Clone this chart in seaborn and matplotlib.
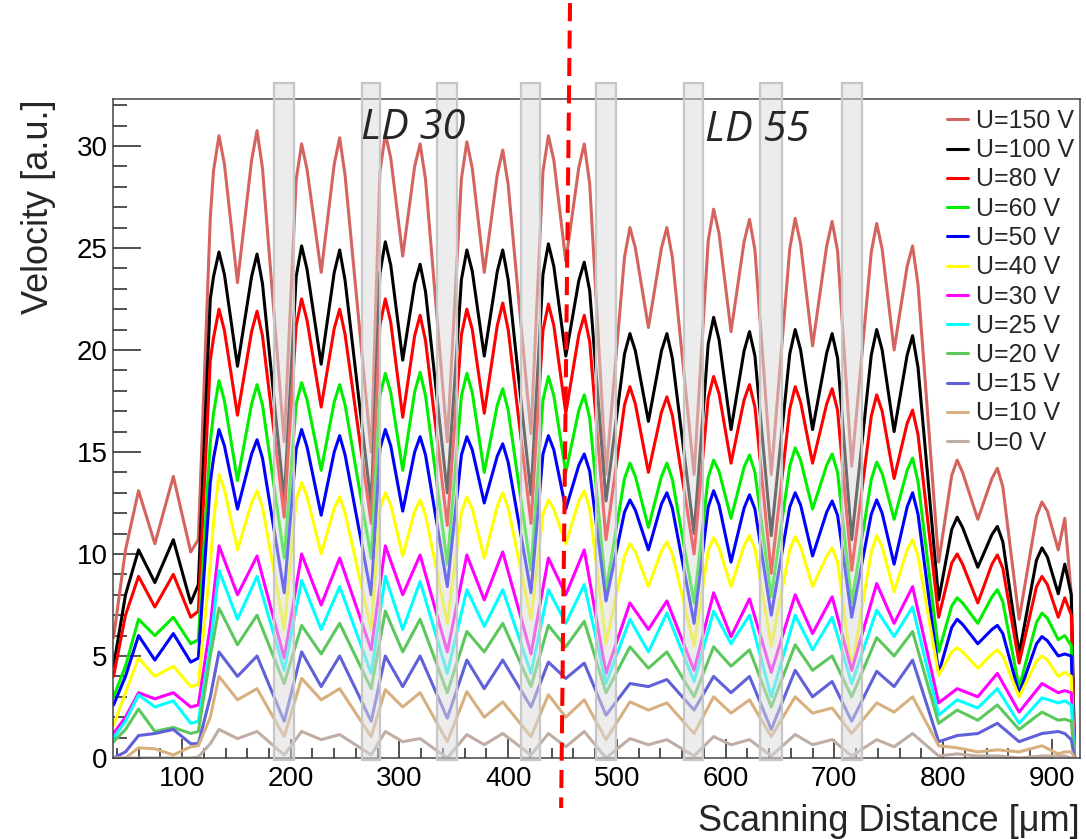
import numpy as np
import pandas as pd
import matplotlib
matplotlib.use("Agg")
import matplotlib.pyplot as plt
import seaborn as sns
from matplotlib.patches import Rectangle
from matplotlib.ticker import MultipleLocator

# ---------------- data ----------------
# sample positions (um) for the high-voltage curves (peaks with shoulders)
x_hi = [37, 48, 60, 75, 92, 108, 115, 126,
        129, 134, 139, 151, 164, 169, 174, 194,
        205, 210, 215, 228, 240, 245, 250, 274,
        282, 287, 292, 303, 314, 319, 324, 344,
        357, 362, 367, 378, 390, 395, 400, 421,
        432, 437, 442, 453, 465, 470, 475, 490,
        507, 512, 517, 529, 541, 546, 551, 571,
        584, 589, 594, 605, 617, 622, 627, 642,
        659, 664, 669, 680, 693, 698, 703, 716,
        734, 739, 744, 755, 767, 772, 777,
        796, 808, 813, 818, 832, 845, 850, 855, 870, 886, 891, 896, 906, 912, 918, 921]

u150 = [5.9, 10.2, 13.1, 10.5, 13.8, 10.1, 10.7, 26.5,
        28.8, 30.5, 29.1, 23.3, 29.3, 30.75, 28.9, 15.5,
        28.35, 30.1, 28.85, 23.8, 29.1, 30.4, 28.55, 15.0,
        28.7, 30.6, 29.4, 24.6, 29.0, 30.1, 28.35, 15.5,
        28.4, 30.2, 28.9, 23.8, 28.6, 29.8, 28.1, 15.9,
        28.75, 30.5, 29.3, 24.35, 28.95, 30.1, 28.15, 13.9,
        24.55, 26.0, 25.0, 21.1, 25.0, 26.0, 24.55, 13.9,
        25.35, 26.9, 25.7, 20.9, 25.3, 26.4, 24.9, 13.9,
        24.95, 26.45, 25.2, 20.2, 25.1, 26.3, 24.85, 14.3,
        24.8, 26.2, 24.95, 20.0, 24.1, 25.1, 23.2,
        9.6, 13.85, 14.6, 14.0, 11.7, 13.7, 14.2, 13.3, 6.8, 11.85, 12.55, 12.1, 10.2, 11.75, 8.0, 0.0]
u100 = [4.5, 8.0, 10.2, 8.6, 10.7, 7.6, 8.5, 22.5,
        23.6, 24.8, 23.7, 19.2, 23.6, 24.7, 23.25, 12.6,
        23.6, 25.1, 23.95, 19.3, 23.8, 24.9, 23.4, 12.4,
        23.75, 25.3, 24.15, 19.5, 23.25, 24.2, 22.85, 13.0,
        23.45, 24.9, 23.85, 19.7, 23.85, 24.9, 23.45, 12.9,
        23.7, 25.2, 24.1, 19.7, 23.4, 24.3, 22.9, 12.6,
        19.8, 20.8, 19.95, 16.5, 19.95, 20.8, 19.6, 11.0,
        20.3, 21.6, 20.5, 16.1, 19.95, 20.9, 19.7, 10.9,
        19.8, 21.0, 20.0, 16.1, 19.85, 20.8, 19.6, 10.7,
        19.75, 21.0, 20.0, 16.0, 19.75, 20.7, 19.15,
        7.75, 11.2, 11.8, 11.3, 9.35, 10.95, 11.35, 10.6, 5.1, 9.7, 10.3, 9.85, 8.05, 9.5, 8.0, 0.0]
u80 = [4.0, 7.0, 8.9, 7.4, 9.0, 6.9, 7.2, 19.5,
       20.6, 22.0, 20.95, 16.8, 20.9, 21.9, 20.7, 11.8,
       21.2, 22.5, 21.45, 17.2, 21.05, 22.0, 20.75, 11.5,
       21.2, 22.5, 21.35, 16.7, 20.7, 21.7, 20.45, 11.4,
       20.75, 22.0, 21.0, 16.9, 21.2, 22.3, 21.0, 11.5,
       20.95, 22.25, 21.2, 16.9, 20.75, 21.7, 20.4, 10.7,
       17.3, 18.2, 17.35, 14.0, 16.95, 17.7, 16.8, 10.0,
       17.65, 18.7, 17.85, 14.45, 17.55, 18.3, 17.2, 9.05,
       17.1, 18.2, 17.45, 14.45, 17.35, 18.1, 17.05, 9.2,
       16.75, 17.8, 17.0, 13.7, 16.4, 17.05, 15.85,
       6.9, 9.55, 10.0, 9.5, 7.6, 9.5, 9.95, 9.3, 4.65, 8.4, 8.9, 8.5, 6.9, 7.85, 7.0, 0.0]
u60 = [3.0, 4.5, 6.8, 6.0, 6.9, 5.6, 5.8, 15.5,
       16.9, 18.5, 17.5, 13.6, 17.35, 18.3, 17.3, 9.8,
       17.35, 18.4, 17.55, 14.1, 17.45, 18.3, 17.3, 9.8,
       17.75, 18.85, 17.9, 14.1, 17.95, 18.9, 17.75, 9.5,
       17.75, 18.85, 17.9, 14.0, 17.3, 18.1, 17.05, 9.2,
       17.55, 18.7, 17.75, 14.0, 17.05, 17.8, 16.65, 8.2,
       13.7, 14.45, 13.8, 11.3, 13.8, 14.45, 13.65, 7.6,
       13.75, 14.6, 14.05, 11.75, 14.25, 14.85, 14.0, 7.9,
       14.3, 15.2, 14.6, 12.2, 14.35, 14.9, 14.0, 7.6,
       13.65, 14.5, 13.95, 11.7, 14.1, 14.7, 13.55,
       5.2, 7.45, 7.85, 7.6, 6.6, 7.9, 8.25, 7.65, 3.45, 6.65, 7.1, 6.85, 5.8, 6.0, 5.5, 0.0]
u50 = [2.6, 4.0, 6.0, 4.8, 6.1, 4.7, 4.9, 13.5,
       14.7, 16.1, 15.3, 12.2, 14.9, 15.6, 14.7, 8.1,
       15.15, 16.1, 15.25, 11.9, 15.0, 15.8, 14.85, 8.0,
       15.15, 16.1, 15.3, 12.1, 15.0, 15.75, 14.85, 8.4,
       14.85, 15.75, 15.1, 12.5, 14.8, 15.4, 14.5, 8.1,
       14.9, 15.8, 15.1, 12.2, 14.35, 14.9, 14.05, 7.7,
       12.05, 12.65, 12.15, 10.2, 12.45, 13.0, 12.25, 6.6,
       12.3, 13.1, 12.4, 9.6, 12.25, 12.9, 12.2, 7.0,
       12.3, 13.0, 12.4, 9.9, 12.05, 12.6, 11.9, 6.9,
       11.95, 12.65, 12.0, 9.5, 12.3, 13.0, 11.95,
       4.15, 6.4, 6.8, 6.55, 5.6, 6.3, 6.5, 6.1, 3.15, 5.6, 5.95, 5.75, 5.0, 5.1, 5.0, 0.0]
u40 = [1.6, 3.2, 4.9, 4.0, 4.5, 3.5, 3.6, 9.5,
       11.6, 13.9, 13.15, 10.2, 12.5, 13.1, 12.3, 6.3,
       12.65, 13.5, 12.8, 10.0, 12.25, 12.8, 12.0, 6.3,
       12.2, 13.0, 12.4, 9.9, 12.1, 12.65, 11.9, 6.6,
       12.05, 12.8, 12.2, 9.8, 12.35, 13.0, 12.25, 6.8,
       11.95, 12.65, 12.2, 10.5, 12.6, 13.1, 12.2, 5.6,
       9.9, 10.5, 10.1, 8.4, 10.15, 10.6, 10.0, 5.5,
       10.15, 10.8, 10.3, 8.4, 10.4, 10.9, 10.25, 5.5,
       10.2, 10.85, 10.35, 8.4, 9.9, 10.3, 9.6, 4.3,
       10.1, 10.9, 10.35, 8.15, 10.2, 10.7, 9.9,
       4.05, 5.2, 5.4, 5.2, 4.4, 5.1, 5.3, 5.0, 3.0, 4.75, 5.0, 4.8, 4.0, 4.2, 4.0, 0.0]

# sample positions (um) for the low-voltage curves
x_lo = [37, 48, 60, 75, 92, 108, 115, 126,
        134, 151, 169, 194,
        210, 228, 245, 274,
        287, 303, 319, 344,
        362, 378, 395, 421,
        437, 453, 470, 490,
        512, 529, 546, 571,
        589, 605, 622, 642,
        664, 680, 698, 716,
        739, 755, 772,
        796, 813, 832, 850, 870, 891, 906, 912, 918, 921]

u30 = [1.2, 2.0, 3.2, 2.9, 3.2, 2.5, 2.6, 6.5,
       10.4, 8.0, 9.9, 4.9,
       10.0, 7.5, 9.8, 5.3,
       10.4, 8.0, 9.95, 5.2,
       9.95, 7.75, 10.1, 5.1,
       9.8, 8.0, 10.2, 4.15,
       7.6, 6.3, 7.7, 4.3,
       8.1, 5.95, 7.8, 4.2,
       8.0, 6.1, 7.9, 4.3,
       8.55, 6.6, 8.4,
       2.7, 3.4, 3.0, 4.15, 2.25, 3.65, 3.2, 3.3, 3.2, 0.0]
u25 = [1.0, 1.8, 3.1, 2.5, 2.8, 1.7, 1.8, 5.5,
       9.2, 6.8, 8.9, 4.3,
       8.7, 6.3, 8.4, 4.15,
       8.9, 6.3, 8.65, 4.15,
       8.25, 6.45, 8.25, 4.15,
       8.25, 6.6, 8.5, 3.65,
       6.8, 5.2, 7.1, 3.75,
       7.2, 5.6, 7.0, 3.0,
       7.0, 5.3, 6.9, 3.65,
       7.25, 5.95, 7.4,
       2.1, 2.85, 2.45, 3.4, 1.7, 2.95, 2.7, 2.8, 2.6, 0.0]
u20 = [0.8, 1.4, 2.4, 1.3, 1.5, 1.2, 1.3, 5.0,
       7.35, 5.55, 7.0, 3.65,
       6.5, 5.1, 6.6, 3.4,
       7.2, 5.2, 6.8, 3.2,
       6.2, 5.2, 6.6, 3.5,
       6.5, 5.45, 6.7, 3.2,
       5.45, 4.4, 5.2, 3.0,
       5.45, 4.5, 5.3, 2.5,
       5.55, 4.3, 5.0, 3.0,
       5.9, 5.0, 6.2,
       1.7, 2.35, 1.85, 2.6, 1.4, 2.25, 1.85, 1.9, 1.8, 0.0]
u15 = [0.0, 0.3, 1.1, 1.2, 1.4, 0.7, 0.7, 3.0,
       5.2, 4.0, 5.0, 1.8,
       5.2, 3.5, 5.0, 1.8,
       5.0, 3.5, 5.0, 1.95,
       4.8, 3.4, 4.8, 2.5,
       4.7, 3.9, 4.65, 2.1,
       3.65, 3.5, 3.85, 2.35,
       4.0, 3.2, 4.0, 1.4,
       4.3, 3.0, 3.75, 1.8,
       4.25, 3.5, 4.8,
       0.8, 1.1, 1.2, 1.7, 0.8, 1.2, 1.3, 1.2, 0.9, 0.0]
u10 = [0.0, 0.0, 0.5, 0.45, 0.15, 0.55, 0.6, 2.0,
       4.0, 2.85, 3.4, 1.05,
       3.9, 2.85, 3.4, 1.05,
       3.35, 2.5, 3.2, 0.8,
       3.25, 2.0, 2.75, 1.05,
       3.1, 2.0, 2.85, 0.9,
       2.75, 2.35, 2.7, 1.2,
       3.0, 2.2, 2.85, 1.05,
       3.0, 2.2, 2.45, 1.2,
       2.7, 2.25, 3.0,
       0.6, 0.5, 0.3, 0.4, 0.3, 0.6, 0.2, 0.3, 0.3, 0.0]
u0 = [0.0, 0.0, 0.0, 0.0, 0.0, 0.0, 0.05, 0.7,
      1.4, 0.95, 1.3, 0.15,
      1.3, 0.9, 1.15, 0.15,
      1.3, 0.8, 0.95, 0.0,
      1.15, 0.65, 1.2, 0.15,
      1.2, 0.55, 1.3, 0.0,
      0.95, 0.65, 0.9, 0.1,
      1.05, 0.65, 0.9, 0.1,
      1.15, 0.65, 0.9, 0.1,
      0.9, 0.55, 1.2,
      0.1, 0.2, 0.1, 0.1, 0.0, 0.1, 0.1, 0.1, 0.0, 0.0]

labels = ["U=150 V", "U=100 V", "U=80 V", "U=60 V", "U=50 V", "U=40 V",
          "U=30 V", "U=25 V", "U=20 V", "U=15 V", "U=10 V", "U=0 V"]
series = [u150, u100, u80, u60, u50, u40, u30, u25, u20, u15, u10, u0]
xgrids = [x_hi] * 6 + [x_lo] * 6
colors = ["#d4645e", "#000000", "#ff0000", "#00ee00", "#0000ff", "#ffff00",
          "#ff00ff", "#00ffff", "#5cc85c", "#6060d8", "#d8b080", "#c0aea4"]

# grey strips (left, right edges in um)
strip_lo = [184.6, 265.6, 334.3, 411.6, 480.9, 561.8, 631.7, 706.9]
strip_hi = [203.0, 282.2, 352.7, 429.3, 499.3, 579.6, 651.7, 725.3]

# ---------------- figure ----------------
sns.set_style("white")
plt.rcParams['font.family'] = ['Liberation Sans', 'DejaVu Sans']

fig = plt.figure(figsize=(10.86, 8.39), dpi=100)
ax = fig.add_axes([113 / 1086, 1 - 758 / 839, 967 / 1086, 659 / 839])

df = pd.concat([pd.DataFrame({"x": xs, "v": s, "U": lab})
                for xs, s, lab in zip(xgrids, series, labels)], ignore_index=True)

sns.lineplot(data=df, x="x", y="v", hue="U", hue_order=labels,
             palette=dict(zip(labels, colors)), estimator=None, sort=False,
             linewidth=2.2, ax=ax, legend=True)
for ln in ax.get_lines():
    ln.set_solid_joinstyle("round")
    ln.set_solid_capstyle("round")

ax.set_xlim(36.5, 926)
ax.set_ylim(0, 32.3)

for lo, hi in zip(strip_lo, strip_hi):
    r = Rectangle((lo, -0.1), hi - lo, 33.2, facecolor=(0.86, 0.86, 0.86, 0.5),
                  edgecolor=(0.78, 0.78, 0.78, 1.0), linewidth=1.6,
                  clip_on=False, zorder=5)
    ax.add_patch(r)

ax.plot([456.9, 448.7], [37.0, -2.45], color="#ff0000", lw=2.9,
        dashes=(4.5, 2.3), clip_on=False, zorder=10)

ax.text(312.5, 30.9, "LD 30", fontsize=30, style="italic",
        family=["Open Sans", "DejaVu Sans"], ha="center", va="center", zorder=11)
ax.text(628.6, 30.8, "LD 55", fontsize=30, style="italic",
        family=["Open Sans", "DejaVu Sans"], ha="center", va="center", zorder=11)

ax.xaxis.set_major_locator(MultipleLocator(100))
ax.xaxis.set_minor_locator(MultipleLocator(20))
ax.yaxis.set_major_locator(MultipleLocator(5))
ax.yaxis.set_minor_locator(MultipleLocator(1))
ax.tick_params(axis="x", which="major", direction="in", length=14, width=1.1,
               labelsize=20, pad=6, bottom=True, top=False, color="#222222",
               labelcolor="black")
ax.tick_params(axis="x", which="minor", direction="in", length=7, width=1.1,
               bottom=True, top=False, color="#222222")
ax.tick_params(axis="y", which="major", direction="in", length=20, width=1.1,
               labelsize=20, pad=4, left=True, right=False, color="#222222",
               labelcolor="black")
ax.tick_params(axis="y", which="minor", direction="in", length=10, width=1.1,
               left=True, right=False, color="#222222")
for sp in ax.spines.values():
    sp.set_linewidth(1.1)
    sp.set_color("#444444")

ax.set_xlabel("Scanning Distance [μm]", fontsize=26, loc="right")
ax.xaxis.set_label_coords(1.0, -0.07)
ax.set_ylabel("Velocity [a.u.]", fontsize=26, loc="top")
ax.yaxis.set_label_coords(-0.059, 1.0)

handles, labs = ax.get_legend_handles_labels()
ax.legend(handles, labs, loc="upper left", bbox_to_anchor=(947 / 1086, 1 - 109 / 839),
          bbox_transform=fig.transFigure, frameon=False, fontsize=18,
          handlelength=0.85, handletextpad=0.3, labelspacing=0.21,
          borderpad=0, borderaxespad=0)

fig.savefig("out.png", dpi=100)
